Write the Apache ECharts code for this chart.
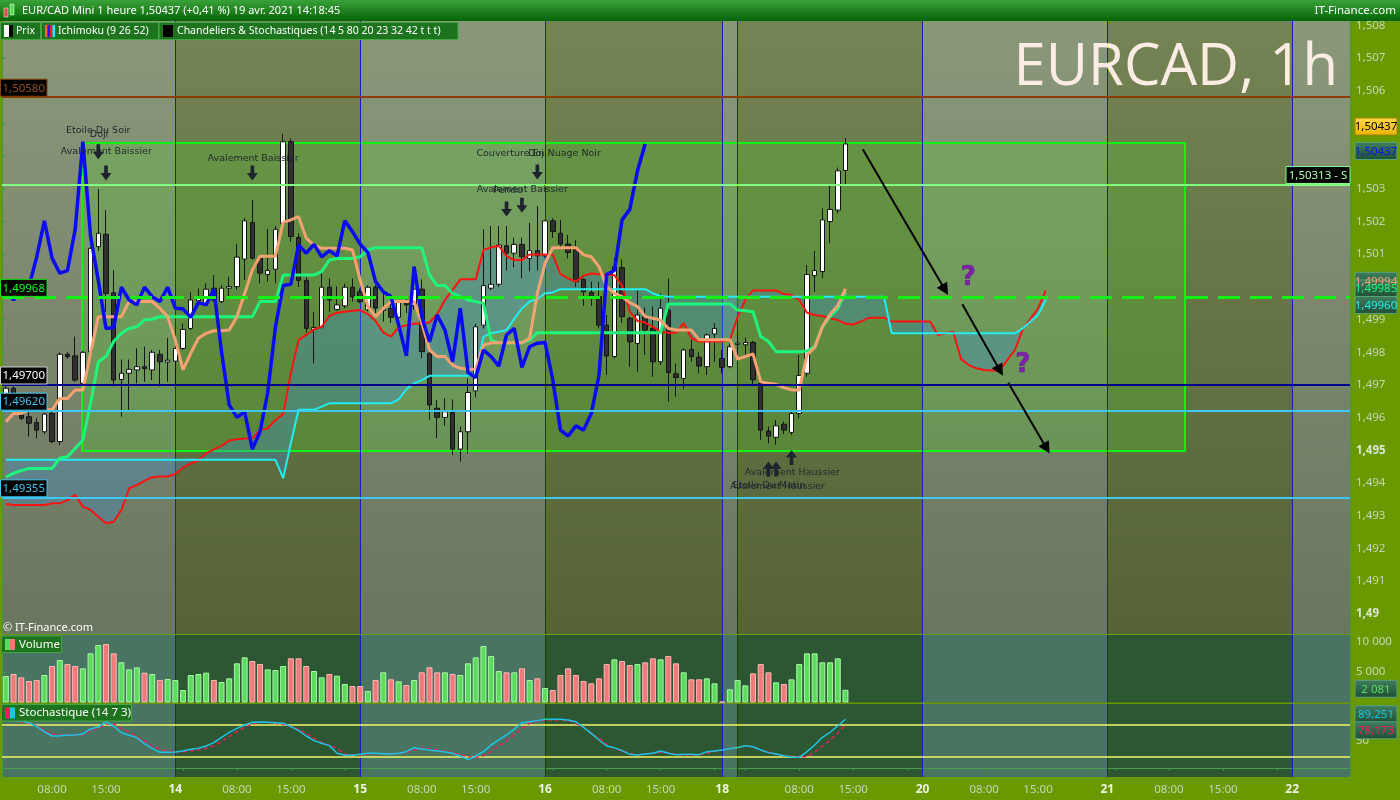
<!DOCTYPE html>
<html><head><meta charset="utf-8">
<script src="https://cdn.jsdelivr.net/npm/echarts@6/dist/echarts.min.js"></script>
<style>html,body{margin:0;padding:0;background:#689a00;}#c{width:1400px;height:800px;}</style>
</head><body><div id="c"></div>
<script>
// ---------- DATA ----------
const sessions = [[13,2,23],[14,0,23],[15,0,23],[16,0,22],[18,22,23],[19,0,23],[20,0,23],[21,0,23],[22,0,7]];
const tickHours = [1,8,15,22];
const timeLabelHours = [8,15];

const openP = [1.49665,1.49690,1.49608,1.49603,1.49585,1.49557,1.49613,1.49527,1.49794,1.49789,
1.49705,1.49802,1.50123,1.50161,1.49982,1.49717,1.49736,1.49746,1.49756,1.49746,
1.49794,1.49770,1.49773,1.49812,1.49873,1.49958,1.49950,1.49996,1.49955,1.49996,
1.50001,1.50085,1.50197,1.50088,1.50038,1.50054,1.50194,1.50444,1.50151,1.50020,
1.49870,1.49878,1.49999,1.49931,1.49942,1.49999,1.49985,1.49930,1.49999,1.49928,
1.49934,1.49907,1.49955,1.49943,1.49993,1.49797,1.49629,1.49601,1.49616,1.49504,
1.49557,1.49682,1.49883,1.49996,1.50008,1.50126,1.50103,1.50130,1.50087,1.50111,
1.50095,1.50202,1.50164,1.50131,1.50115,1.50023,1.49983,1.49970,1.49883,1.49787,
1.50059,1.49904,1.49827,1.49909,1.49873,1.49771,1.49929,1.49734,1.49720,1.49809,
1.49785,1.49756,1.49856,1.49781,1.49756,1.49824,1.49823,1.49830,1.49705,1.49559,
1.49540,1.49580,1.49555,1.49613,1.49736,1.50035,1.50047,1.50200,1.50235,1.50356];
const closeP = [1.49690,1.49650,1.49598,1.49583,1.49562,1.49611,1.49527,1.49794,1.49787,1.49715,
1.49800,1.50118,1.50164,1.49980,1.49715,1.49736,1.49748,1.49756,1.49750,1.49800,
1.49771,1.49776,1.49812,1.49870,1.49960,1.49965,1.49993,1.49960,1.49996,1.50001,
1.50091,1.50202,1.50088,1.50042,1.50050,1.50176,1.50444,1.50154,1.50020,1.49873,
1.49876,1.49999,1.49960,1.49945,1.49999,1.49970,1.49955,1.49999,1.49935,1.49933,
1.49907,1.49952,1.49945,1.49993,1.49802,1.49639,1.49601,1.49618,1.49504,1.49557,
1.49677,1.49878,1.50004,1.50008,1.50128,1.50103,1.50130,1.50092,1.50111,1.50095,
1.50202,1.50169,1.50131,1.50105,1.50016,1.49985,1.49970,1.49883,1.49789,1.50062,
1.49909,1.49832,1.49914,1.49868,1.49771,1.49935,1.49738,1.49723,1.49807,1.49787,
1.49758,1.49853,1.49873,1.49754,1.49817,1.49828,1.49830,1.49716,1.49562,1.49544,
1.49575,1.49562,1.49613,1.49729,1.50038,1.50050,1.50205,1.50237,1.50355,1.50437];
const lowP = [1.49650,1.49630,1.49593,1.49542,1.49537,1.49550,1.49522,1.49517,1.49780,1.49710,
1.49700,1.49795,1.50110,1.49924,1.49695,1.49603,1.49624,1.49705,1.49710,1.49715,
1.49695,1.49710,1.49700,1.49807,1.49868,1.49954,1.49945,1.49955,1.49950,1.49970,
1.49991,1.50021,1.50083,1.50011,1.50016,1.50011,1.50189,1.50138,1.50000,1.49860,
1.49766,1.49873,1.49924,1.49928,1.49935,1.49955,1.49950,1.49925,1.49920,1.49894,
1.49890,1.49900,1.49920,1.49930,1.49782,1.49593,1.49537,1.49575,1.49486,1.49466,
1.49491,1.49662,1.49873,1.49990,1.50000,1.50050,1.50060,1.50026,1.50047,1.50050,
1.50090,1.50150,1.50120,1.50087,1.50000,1.49942,1.49942,1.49873,1.49731,1.49782,
1.49890,1.49756,1.49741,1.49792,1.49725,1.49761,1.49649,1.49664,1.49687,1.49771,
1.49736,1.49731,1.49771,1.49736,1.49751,1.49792,1.49792,1.49700,1.49532,1.49522,
1.49517,1.49550,1.49547,1.49598,1.49725,1.49985,1.50026,1.50133,1.50225,1.50310];
const highP = [1.49720,1.49705,1.49624,1.49624,1.49598,1.49615,1.49620,1.49800,1.49800,1.49848,
1.49805,1.50122,1.50299,1.50235,1.50052,1.49778,1.49778,1.49812,1.49817,1.49807,
1.49807,1.49843,1.49833,1.49888,1.49985,1.49995,1.50011,1.50036,1.50005,1.50031,
1.50132,1.50210,1.50266,1.50095,1.50177,1.50186,1.50468,1.50454,1.50164,1.50030,
1.49924,1.50050,1.50026,1.50001,1.50010,1.50026,1.49995,1.50005,1.50006,1.49980,
1.49980,1.49960,1.49965,1.50000,1.50023,1.49800,1.49654,1.49659,1.49656,1.49573,
1.49720,1.49887,1.50176,1.50186,1.50186,1.50186,1.50151,1.50151,1.50196,1.50247,
1.50205,1.50210,1.50205,1.50159,1.50143,1.50026,1.50016,1.50016,1.49914,1.50087,
1.50084,1.49909,1.49989,1.49937,1.49940,1.49980,1.50026,1.49766,1.49812,1.49838,
1.49802,1.49858,1.49889,1.49807,1.49838,1.49861,1.49845,1.49835,1.49715,1.49573,
1.49593,1.49588,1.49618,1.49792,1.50067,1.50110,1.50240,1.50312,1.50365,1.50455];

const volumes = [4344,4672,4126,3525,3689,4508,5984,6967,6311,5984,
5601,8060,9426,9590,8060,6585,5437,5765,4891,4672,
3689,3852,3689,2049,4508,4672,4891,3689,3361,3962,
6421,7404,6803,6311,5437,5328,5984,7240,7240,5984,
5164,4126,4672,4399,3033,2705,2705,1885,3689,4945,
3798,3470,2869,3689,4945,5765,4945,4945,4672,4508,
6421,7404,9262,7623,5164,4945,4945,5601,3689,3962,
2377,2049,4508,5601,4508,3525,3142,3962,6311,7076,
6803,6148,6311,6585,7240,7076,7623,6421,4945,3798,
3798,3962,3142,137,2158,3689,2814,4781,6311,4945,
3306,3033,3798,6311,8060,8060,6585,6585,7240,2081];

const tenkan = [1.49588,1.49613,1.49613,1.49624,1.49624,1.49624,1.49624,1.49659,1.49659,1.49685,
1.49685,1.49797,1.49909,1.49909,1.49909,1.49909,1.49955,1.49955,1.49955,1.49955,
1.49934,1.49909,1.49838,1.49746,1.49797,1.49843,1.49858,1.49866,1.49866,1.49868,
1.49909,1.49980,1.50052,1.50094,1.50094,1.50094,1.50197,1.50205,1.50215,1.50149,
1.50128,1.50118,1.50118,1.50118,1.50118,1.50113,1.50021,1.49940,1.49909,1.49934,
1.49955,1.49955,1.49955,1.49955,1.49889,1.49807,1.49787,1.49787,1.49761,1.49751,
1.49748,1.49748,1.49822,1.49829,1.49829,1.49829,1.49829,1.49829,1.49843,1.49980,
1.50072,1.50120,1.50120,1.50120,1.50120,1.50098,1.50092,1.50062,1.50001,1.49980,
1.49970,1.49952,1.49940,1.49909,1.49904,1.49899,1.49873,1.49868,1.49868,1.49868,
1.49838,1.49838,1.49838,1.49838,1.49838,1.49779,1.49787,1.49795,1.49710,1.49705,
1.49702,1.49692,1.49685,1.49685,1.49792,1.49814,1.49878,1.49916,1.49943,1.49994];
const kijun = [1.49418,1.49430,1.49438,1.49445,1.49445,1.49445,1.49445,1.49476,1.49481,1.49506,
1.49532,1.49644,1.49771,1.49787,1.49833,1.49858,1.49873,1.49878,1.49899,1.49901,
1.49909,1.49909,1.49909,1.49909,1.49909,1.49909,1.49909,1.49909,1.49909,1.49909,
1.49909,1.49909,1.49909,1.49955,1.49955,1.49955,1.50036,1.50036,1.50036,1.50036,
1.50036,1.50047,1.50082,1.50087,1.50087,1.50087,1.50092,1.50113,1.50120,1.50120,
1.50120,1.50120,1.50120,1.50120,1.50120,1.50036,1.50004,1.50004,1.49980,1.49970,
1.49960,1.49955,1.49950,1.49838,1.49829,1.49829,1.49829,1.49829,1.49838,1.49860,
1.49860,1.49860,1.49860,1.49860,1.49860,1.49860,1.49860,1.49860,1.49860,1.49860,
1.49860,1.49860,1.49860,1.49860,1.49860,1.49860,1.49948,1.49948,1.49948,1.49948,
1.49948,1.49948,1.49948,1.49948,1.49948,1.49929,1.49927,1.49924,1.49848,1.49833,
1.49802,1.49802,1.49802,1.49802,1.49804,1.49817,1.49878,1.49909,1.49934,1.49985];
const senkouA = [1.49336,1.49333,1.49333,1.49333,1.49333,1.49333,1.49338,1.49338,1.49348,1.49364,
1.49328,1.49318,1.49297,1.49277,1.49282,1.49318,1.49384,1.49394,1.49407,1.49418,
1.49420,1.49420,1.49428,1.49448,1.49460,1.49469,1.49491,1.49503,1.49514,1.49530,
1.49534,1.49536,1.49537,1.49562,1.49567,1.49593,1.49611,1.49736,1.49838,1.49853,
1.49870,1.49878,1.49911,1.49921,1.49924,1.49927,1.49929,1.49917,1.49896,1.49860,
1.49848,1.49876,1.49883,1.49887,1.49889,1.49891,1.49917,1.49960,1.49991,1.50023,
1.50023,1.50023,1.50113,1.50121,1.50125,1.50094,1.50082,1.50082,1.50099,1.50099,
1.50099,1.50098,1.50039,1.50026,1.50016,1.50034,1.50041,1.50039,1.50036,1.50036,
1.50003,1.49924,1.49896,1.49891,1.49878,1.49863,1.49860,1.49860,1.49889,1.49843,
1.49833,1.49833,1.49833,1.49833,1.49838,1.49909,1.49960,1.49989,1.49989,1.49989,
1.49989,1.49978,1.49975,1.49960,1.49921,1.49914,1.49911,1.49904,1.49899,1.49887,
1.49885,1.49894,1.49905,1.49906,1.49906,1.49894,1.49894,1.49894,1.49894,1.49894,
1.49894,1.49853,1.49858,1.49862,1.49779,1.49761,1.49751,1.49746,1.49744,1.49744,
1.49776,1.49807,1.49870,1.49902,1.49934,1.49989];
const senkouB = [1.49471,1.49471,1.49471,1.49471,1.49471,1.49471,1.49471,1.49471,1.49471,1.49471,
1.49471,1.49471,1.49471,1.49471,1.49471,1.49471,1.49471,1.49471,1.49471,1.49471,
1.49471,1.49471,1.49471,1.49471,1.49471,1.49471,1.49471,1.49471,1.49471,1.49471,
1.49471,1.49471,1.49471,1.49471,1.49471,1.49471,1.49415,1.49522,1.49624,1.49624,
1.49624,1.49634,1.49644,1.49644,1.49644,1.49644,1.49644,1.49644,1.49644,1.49644,
1.49644,1.49656,1.49687,1.49705,1.49715,1.49728,1.49728,1.49728,1.49728,1.49728,
1.49728,1.49734,1.49848,1.49858,1.49863,1.49868,1.49902,1.49934,1.49955,1.49963,
1.49980,1.49983,1.49993,1.49993,1.49993,1.49993,1.49993,1.49993,1.49993,1.49993,
1.49993,1.49993,1.49993,1.49993,1.49980,1.49972,1.49970,1.49970,1.49970,1.49970,
1.49970,1.49970,1.49970,1.49970,1.49970,1.49970,1.49970,1.49970,1.49970,1.49970,
1.49970,1.49970,1.49970,1.49970,1.49970,1.49970,1.49970,1.49970,1.49970,1.49970,
1.49970,1.49970,1.49970,1.49970,1.49970,1.49858,1.49858,1.49858,1.49858,1.49858,
1.49858,1.49858,1.49858,1.49858,1.49858,1.49858,1.49858,1.49858,1.49858,1.49858,
1.49858,1.49858,1.49873,1.49894,1.49914,1.49960];
const chikou = [1.49993,1.49960,1.49996,1.50001,1.50091,1.50202,1.50088,1.50042,1.50050,1.50176,
1.50444,1.50154,1.50020,1.49873,1.49876,1.49999,1.49960,1.49945,1.49999,1.49970,
1.49955,1.49999,1.49935,1.49933,1.49907,1.49952,1.49945,1.49993,1.49802,1.49639,
1.49601,1.49618,1.49504,1.49557,1.49677,1.49878,1.50004,1.50008,1.50128,1.50103,
1.50130,1.50092,1.50111,1.50095,1.50202,1.50169,1.50131,1.50105,1.50016,1.49985,
1.49970,1.49883,1.49789,1.50062,1.49909,1.49832,1.49914,1.49868,1.49771,1.49935,
1.49738,1.49723,1.49807,1.49787,1.49758,1.49853,1.49873,1.49754,1.49817,1.49828,
1.49830,1.49716,1.49562,1.49544,1.49575,1.49562,1.49613,1.49729,1.50038,1.50050,
1.50205,1.50237,1.50355,1.50437];

const stochK = [87.3,86.7,86.0,83.0,75.7,66.5,58.5,59.1,59.8,60.4,
62.2,71.4,75.0,84.2,76.9,64.6,59.8,55.5,43.9,35.9,
28.6,28.6,29.2,31.0,34.1,35.9,40.2,46.3,56.1,65.3,
72.6,78.7,83.6,84.2,83.6,83.0,81.8,75.7,68.3,58.5,
50.0,45.1,40.8,26.7,23.1,23.1,24.9,26.7,26.7,26.1,
25.5,26.7,29.8,37.1,34.7,32.8,31.0,29.2,26.7,21.8,
15.1,21.8,29.8,42.0,51.2,60.4,70.8,83.0,84.8,86.7,
89.1,89.1,89.1,87.9,84.8,74.4,63.4,51.2,40.2,37.1,
31.6,24.9,23.7,25.5,26.7,31.0,26.7,24.3,24.9,24.9,
24.3,29.8,31.0,32.8,35.2,37.6,40.6,38.9,32.8,28.0,
25.5,22.4,20.0,19.4,29.8,42.0,56.1,65.3,76.9,89.251];
const stochD = [87.8,86.0,84.2,81.8,76.9,69.5,62.2,60.4,60.4,60.4,
61.0,67.7,73.2,80.5,80.5,72.0,65.9,57.3,50.0,40.8,
34.1,31.0,29.8,29.8,31.6,32.8,35.9,40.2,48.1,57.3,
66.5,74.4,80.5,83.6,83.6,81.8,79.9,75.7,70.8,63.4,
54.3,46.9,41.4,35.9,24.9,23.7,23.7,25.5,26.1,26.1,
25.5,26.7,28.6,32.8,35.9,34.7,32.8,30.4,28.0,24.9,
20.6,18.8,22.4,29.8,40.2,50.0,60.4,72.6,81.8,86.0,
87.9,87.9,87.9,87.3,81.8,74.4,63.4,54.3,43.2,35.9,
31.0,26.7,23.7,25.5,26.7,29.2,28.0,24.9,23.7,23.7,
23.7,26.7,30.4,32.8,35.2,37.6,40.2,38.9,32.8,28.6,
25.5,22.4,21.2,20.6,20.6,28.6,40.2,51.2,63.4,78.173];
const stochLevels = [80, 20];

const levels = [1.50580, 1.50313, 1.49968, 1.49700, 1.49620, 1.49355];
const levelTagSide = ['left','right','left','left','left','left'];
const levelSuffix = ['',' - S','','','',''];

// user drawing: rectangle [xStart, xEnd, priceTop, priceBottom] in hour-slot units
const drawnBox = [10.39, 153.58, 1.50440, 1.49498];
// drawn arrows [x1, p1, x2, p2]
const drawnArrows = [[111.74,1.50421,122.42,1.49991],[124.67,1.49947,129.56,1.49744],[130.64,1.49707,135.62,1.49506]];
const questionMarks = [[125.45,1.50026],[132.51,1.49761]];
// candlestick pattern annotations
const patternTexts = [
 ['Etoile Du Soir',12.5,1.50478],['Doji',12.6,1.50465],['Avalement Baissier',13.54,1.50413],
 ['Avalement Baissier',32.6,1.50392],
 ['Couverture En Nuage Noir',69.67,1.50409],['Doji',69.5,1.50409],
 ['Avalement Baissier',67.55,1.50299],['Pendu',65.66,1.50294],
 ['Avalement Haussier',102.6,1.49433],['Etoile Du Matin',99.57,1.49394],['Avalement Haussier',100.68,1.49389]
];
const patternArrows = [[12.5,1.50413,'down'],[13.5,1.50348,'down'],[32.5,1.50348,'down'],[69.5,1.50351,'down'],
 [65.5,1.50238,'down'],[67.5,1.50250,'down'],[102.5,1.49478,'up'],[99.5,1.49443,'up'],[100.5,1.49443,'up']];

const lastPrice = 1.50437;
const lastTenkan = 1.49994, lastKijun = 1.49985, lastSenkouB = 1.49960;
const lastVolume = 2081, lastK = 89.251, lastD = 78.173;

// ---------- BUILD ----------
const cats = [], catDay = [], catHour = [], sessionStart = [];
sessions.forEach(([d,h0,h1]) => {
  sessionStart.push(cats.length);
  for (let h = h0; h <= h1; h++) { cats.push(d + ' ' + String(h).padStart(2,'0') + ':00'); catDay.push(d); catHour.push(h); }
});
const N = cats.length;
const labelAt = cats.map(() => '');
const tickAt = cats.map((c,i) => tickHours.includes(catHour[i]));
cats.forEach((c,i) => { if (timeLabelHours.includes(catHour[i])) labelAt[i] = String(catHour[i]).padStart(2,'0') + ':00'; });
sessionStart.forEach((s,k) => { if (k > 0 && s - sessionStart[k-1] > 3) labelAt[s] = '{d|' + catDay[s] + '}'; });

const dayLines = sessionStart.slice(1).map(s => ({xAxis: s + 0.5}));
const bounds = [0].concat(sessionStart.slice(1).map(s => s + 0.5)).concat([N]);
const grad = (a,b) => ({type:'linear',x:0,y:0,x2:0,y2:1,colorStops:[{offset:0,color:a},{offset:1,color:b}]});
function bands(light, dark) {
  const out = [];
  for (let k = 0; k < bounds.length - 1; k++) out.push([{xAxis: bounds[k], itemStyle:{color: k % 2 === 0 ? light : dark}}, {xAxis: bounds[k+1]}]);
  return out;
}

const candleData = openP.map((o,i) => [o, closeP[i], lowP[i], highP[i]]);
const volData = volumes.map((v,i) => ({value: v, itemStyle: closeP[i] >= openP[i]
  ? {color:'#5cdc5c', borderColor:'#a9f7a9', borderWidth:1}
  : {color:'#ef7a7a', borderColor:'#ffb8b8', borderWidth:1}}));
const cloudBase = senkouA.map((a,i) => Math.min(a, senkouB[i]));
const cloudBand = senkouA.map((a,i) => Math.abs(a - senkouB[i]));

const FONT = "'Noto Sans', 'DejaVu Sans', sans-serif";
const fmtPrice = v => { const r = Math.round(v * 1000) / 1000; const s = String(r).replace('.', ','); return Math.round(r * 1000) % 5 === 0 ? '{b|' + s + '}' : s; };
const fmtLevel = v => v.toFixed(5).replace('.', ',');

const downArrow = 'path://M4,0L8,0L8,8L12,8L6,16L0,8L4,8Z';

const levelLineStyles = [
  {color:'#8b3d00', width:2, type:'solid'},
  {color:'#80ff80', width:2, type:'solid'},
  {color:'#14f014', width:3, type:[22,10]},
  {color:'#00008c', width:2, type:'solid'},
  {color:'#3ec6f5', width:2, type:'solid'},
  {color:'#3ec6f5', width:2, type:'solid'}
];
const levelLines = levels.map((lv,k) => [
  {coord:[0, lv], lineStyle:levelLineStyles[k]},
  {coord:[N, lv], lineStyle:levelLineStyles[k]}
]);

const option = {
  animation: false,
  backgroundColor: '#689a00',
  textStyle: {fontFamily: FONT},
  grid: [
    {left:2, top:20, width:1348, height:614, containLabel:false, outerBoundsMode:'none'},
    {left:2, top:635, width:1348, height:67.5, containLabel:false, outerBoundsMode:'none'},
    {left:2, top:704, width:1348, height:73, containLabel:false, outerBoundsMode:'none'}
  ],
  xAxis: [
    {type:'category', gridIndex:0, data:cats, show:false},
    {type:'value', gridIndex:0, min:0, max:N, show:false},
    {type:'category', gridIndex:1, data:cats, show:false},
    {type:'value', gridIndex:1, min:0, max:N, show:false},
    {type:'category', gridIndex:2, data:cats,
      axisLine:{show:true, lineStyle:{color:'#4aa04a', width:1}},
      axisTick:{show:true, alignWithLabel:true, interval:(i) => tickAt[i], length:3, lineStyle:{color:'#3f9a3f'}},
      axisLabel:{interval:(i) => labelAt[i] !== '', formatter:(v,i) => labelAt[i], color:'#c8d4bb', fontSize:11.5, margin:7,
        rich:{d:{color:'#eef3e6', fontWeight:'bold', fontSize:12}}},
      splitLine:{show:false}},
    {type:'value', gridIndex:2, min:0, max:N, show:false}
  ],
  yAxis: [
    {type:'value', gridIndex:0, position:'right', min:1.489385, max:1.508162, splitNumber:19,
      axisLine:{show:true, lineStyle:{color:'#3f9a3f'}}, axisTick:{show:true, length:4, lineStyle:{color:'#3f9a3f'}},
      axisLabel:{color:'#c8d4bb', fontSize:11.5, margin:6, showMinLabel:false, showMaxLabel:false, formatter:fmtPrice,
        rich:{b:{color:'#dde6d2', fontWeight:'bold', fontSize:11.5}}},
      splitLine:{show:false}},
    {type:'value', gridIndex:1, position:'right', min:0, max:11066, interval:5000,
      axisLine:{show:true, lineStyle:{color:'#3f9a3f'}}, axisTick:{show:true, length:4, lineStyle:{color:'#3f9a3f'}},
      axisLabel:{color:'#c8d4bb', fontSize:11.5, margin:6, showMinLabel:false, showMaxLabel:false,
        formatter: v => String(v).replace(/\B(?=(\d{3})+(?!\d))/g, ' ')},
      splitLine:{show:false}},
    {type:'value', gridIndex:2, position:'right', min:-16.7, max:117.2, splitNumber:3,
      axisLine:{show:true, lineStyle:{color:'#3f9a3f'}}, axisTick:{show:false},
      axisLabel:{color:'#c8d4bb', fontSize:11.5, margin:6, showMinLabel:false, showMaxLabel:false, formatter: v => v === 50 ? '50' : ''},
      splitLine:{show:false}}
  ],
  series: [
    // main background bands + day lines
    {type:'line', xAxisIndex:1, yAxisIndex:0, data:[], silent:true, z:0,
      markArea:{silent:true, z:0, data: bands(grad('#8a987a','#6a765f'), grad('#748454','#556337'))},
      markLine:{silent:true, z:1, symbol:'none', label:{show:false}, lineStyle:{color:'#1c1cc0', width:1, type:'solid'}, data: dayLines}},
    // drawn rectangle
    {type:'line', xAxisIndex:1, yAxisIndex:0, data:[], silent:true, z:1,
      markArea:{silent:true, z:1, itemStyle:{color:'rgba(80,210,40,0.25)', borderColor:'#14f014', borderWidth:2},
        data:[[{coord:[drawnBox[0], drawnBox[2]]},{coord:[drawnBox[1], drawnBox[3]]}]]}},
    // cloud
    {name:'cloudBase', type:'line', xAxisIndex:0, yAxisIndex:0, data:cloudBase, stack:'cloud', symbol:'none', silent:true, z:2,
      lineStyle:{opacity:0}},
    {name:'cloudBand', type:'line', xAxisIndex:0, yAxisIndex:0, data:cloudBand, stack:'cloud', symbol:'none', silent:true, z:2,
      lineStyle:{opacity:0}, areaStyle:{color:'rgba(60,140,205,0.5)'}},
    // candles
    {type:'candlestick', xAxisIndex:0, yAxisIndex:0, data:candleData, barWidth:5, z:3, silent:true,
      itemStyle:{color:'#ffffff', color0:'#303030', borderColor:'#141414', borderColor0:'#141414', borderWidth:1}},
    // ichimoku lines
    {type:'line', xAxisIndex:0, yAxisIndex:0, data:senkouA, symbol:'none', z:4, silent:true, lineStyle:{color:'#ff1212', width:2}},
    {type:'line', xAxisIndex:0, yAxisIndex:0, data:senkouB, symbol:'none', z:4, silent:true, lineStyle:{color:'#22eef0', width:2}},
    {type:'line', xAxisIndex:0, yAxisIndex:0, data:kijun, symbol:'none', z:4, silent:true, lineStyle:{color:'#1ef57c', width:3}},
    {type:'line', xAxisIndex:0, yAxisIndex:0, data:tenkan, symbol:'none', z:4, silent:true, lineStyle:{color:'#f6a273', width:3}},
    {type:'line', xAxisIndex:0, yAxisIndex:0, data:chikou, symbol:'none', z:4, silent:true, lineStyle:{color:'#0a0af5', width:3.5}},
    // horizontal levels
    {type:'line', xAxisIndex:1, yAxisIndex:0, data:[], silent:true, z:5,
      markLine:{silent:true, z:5, symbol:'none', label:{show:false}, data: levelLines}},
    // drawn arrows + question marks + pattern texts
    {type:'line', xAxisIndex:1, yAxisIndex:0, data:[], silent:true, z:6,
      markLine:{silent:true, z:6, symbol:['none','triangle'], symbolSize:12, label:{show:false},
        lineStyle:{color:'#000000', width:2, type:'solid'},
        data: drawnArrows.map(a => [{coord:[a[0],a[1]]},{coord:[a[2],a[3]]}])},
      markPoint:{silent:true, z:6, data:
        questionMarks.map(q => ({coord:q, symbolSize:0, label:{show:true, formatter:'?', position:'inside', color:'#7b22a8', fontSize:26, fontWeight:'bold', fontFamily:'DejaVu Sans', textBorderColor:'#4a1070', textBorderWidth:0.5}}))
        .concat(patternTexts.map(t => ({coord:[t[1],t[2]], symbolSize:0, label:{show:true, formatter:t[0], position:'inside', color:'#1f272d', fontSize:9.5, fontFamily:'DejaVu Sans'}})))}},
    {type:'line', xAxisIndex:1, yAxisIndex:0, data:[], silent:true, z:7,
      markPoint:{silent:true, z:7, data: patternArrows.map(a => ({coord:[a[0],a[1]], symbol:downArrow, symbolSize:[11,15], symbolRotate: a[2]==='up' ? 180 : 0,
        itemStyle:{color:'#1c242e'}, label:{show:false}}))}},
    // volume panel
    {type:'line', xAxisIndex:3, yAxisIndex:1, data:[], silent:true, z:0,
      markArea:{silent:true, z:0, data: bands('#4a7462','#2d5732')},
      markLine:{silent:true, z:1, symbol:'none', label:{show:false}, lineStyle:{color:'#1c1cc0', width:1, type:'solid'}, data: dayLines}},
    {type:'bar', xAxisIndex:2, yAxisIndex:1, data:volData, barWidth:6, z:3, silent:true},
    // stochastic panel
    {type:'line', xAxisIndex:5, yAxisIndex:2, data:[], silent:true, z:0,
      markArea:{silent:true, z:0, data: bands('#4a7462','#2d5732')},
      markLine:{silent:true, z:1, symbol:'none', label:{show:false}, lineStyle:{color:'#1c1cc0', width:1, type:'solid'}, data: dayLines}},
    {type:'line', xAxisIndex:5, yAxisIndex:2, data:[], silent:true, z:1,
      markLine:{silent:true, z:1, symbol:'none', label:{show:false}, data:
        stochLevels.map(l => [{coord:[0,l], lineStyle:{color:'#f4f46a', width:1.5, type:'solid'}},{coord:[N,l], lineStyle:{color:'#f4f46a', width:1.5, type:'solid'}}])}},
    {type:'line', xAxisIndex:4, yAxisIndex:2, data:stochD, symbol:'none', z:4, silent:true, lineStyle:{color:'#e81e60', width:1.5, type:[4,3]}},
    {type:'line', xAxisIndex:4, yAxisIndex:2, data:stochK, symbol:'none', z:4, silent:true, lineStyle:{color:'#1cc4e6', width:1.5}}
  ]
};

const chart = echarts.init(document.getElementById('c'), null, {renderer:'canvas', width:1400, height:800});
chart.setOption(option);

// ---------- overlays (chrome + price tags positioned through the axes) ----------
const py = v => chart.convertToPixel({yAxisIndex:0}, v);
const pyV = v => chart.convertToPixel({yAxisIndex:1}, v);
const pyS = v => chart.convertToPixel({yAxisIndex:2}, v);
const G = [];
function txt(x, y, text, fill, font, align, valign, z) {
  return {type:'text', x:x, y:y, z:z || 100, silent:true, style:{text:text, fill:fill, font:font, textAlign:align||'left', textVerticalAlign:valign||'middle', align:align||'left', verticalAlign:valign||'middle'}};
}
function rect(x, y, w, h, fill, stroke, lw, z) {
  return {type:'rect', z:z || 100, silent:true, shape:{x:x, y:y, width:w, height:h}, style:{fill:fill, stroke:stroke || null, lineWidth:lw || 0}};
}
function tagBox(x, yc, w, text, fill, stroke, color) {
  G.push(rect(x, yc - 8.5, w, 17, fill, stroke, 1, 110));
  G.push(txt(x + w / 2, yc + 0.5, text, color, "11.5px " + FONT, 'center', 'middle', 111));
}
// header
G.push(rect(0, 0, 1400, 21, grad('#3aa23a', '#066406'), null, 0, 100));
G.push(rect(4, 8, 4, 9, '#e04848', '#ffffff', 0.5, 101));
G.push(rect(10, 4, 4, 11, '#50e050', '#ffffff', 0.5, 101));
G.push(txt(22, 11, 'EUR/CAD Mini 1 heure 1,50437 (+0,41 %) 19 avr. 2021 14:18:45', '#ffffff', "11px " + FONT, 'left', 'middle', 101));
G.push(txt(1396, 11, 'IT-Finance.com', '#ffffff', "11.5px " + FONT, 'right', 'middle', 101));
// legends
G.push(rect(0.5, 22.5, 40, 17, '#1e741e', '#46a646', 1, 100));
G.push(rect(4, 25, 5, 12, '#ffffff', null, 0, 101)); G.push(rect(9, 25, 4, 12, '#000000', null, 0, 101));
G.push(txt(16, 31.5, 'Prix', '#ffffff', "10.5px " + FONT, 'left', 'middle', 101));
G.push(rect(41.5, 22.5, 117, 17, '#1e741e', '#46a646', 1, 100));
G.push(rect(45, 25, 2.5, 12, '#ff6a2a', null, 0, 101)); G.push(rect(47.5, 25, 2.5, 12, '#1a1aff', null, 0, 101));
G.push(rect(50, 25, 2.5, 12, '#ff1a1a', null, 0, 101)); G.push(rect(52.5, 25, 2.5, 12, '#22eef0', null, 0, 101));
G.push(txt(58, 31.5, 'Ichimoku (9 26 52)', '#ffffff', "10.5px " + FONT, 'left', 'middle', 101));
G.push(rect(159, 22.5, 299, 17, '#1e741e', '#46a646', 1, 100));
G.push(rect(163, 25, 10, 12, '#000000', null, 0, 101));
G.push(txt(177, 31.5, 'Chandeliers & Stochastiques (14 5 80 20 23 32 42 t t t)', '#ffffff', "10.5px " + FONT, 'left', 'middle', 101));
G.push(rect(1.5, 636, 60, 16.5, '#1e741e', '#46a646', 1, 100));
G.push(rect(5, 639, 5, 11, '#5cdc5c', null, 0, 101)); G.push(rect(10, 639, 5, 11, '#ef7a7a', null, 0, 101));
G.push(txt(19, 644.5, 'Volume', '#ffffff', "11.5px " + FONT, 'left', 'middle', 101));
G.push(rect(1.5, 704.5, 130, 16.5, '#1e741e', '#46a646', 1, 100));
G.push(rect(5, 707.5, 5, 11, '#ff1a5a', null, 0, 101)); G.push(rect(10, 707.5, 5, 11, '#1cc4e6', null, 0, 101));
G.push(txt(19, 713, 'Stochastique (14 7 3)', '#ffffff', "11.5px " + FONT, 'left', 'middle', 101));
// big title + copyright
G.push(txt(1338, 97, 'EURCAD, 1h', '#fdece3', "58px 'Open Sans', 'Noto Sans', sans-serif", 'right', 'bottom', 90));
G.push(txt(3, 627.5, '© IT-Finance.com', '#ffffff', "11px " + FONT, 'left', 'middle', 90));
// separators
G.push({type:'line', z:95, silent:true, shape:{x1:1350.5, y1:20, x2:1350.5, y2:777}, style:{stroke:'#3f9a3f', lineWidth:1}});
// level tags
const tagStyles = [
  ['#000000','#8b3d00','#94501c'], ['#000000','#80ff80','#a8ffa8'], ['#000000','#14e014','#14ff14'],
  ['#000000','#d0d0d0','#ffffff'], ['#000000','#3ec6f5','#3ec6f5'], ['#000000','#3ec6f5','#3ec6f5']
];
levels.forEach((lv, k) => {
  const y = py(lv);
  const t = fmtLevel(lv) + levelSuffix[k];
  if (levelTagSide[k] === 'left') tagBox(0.5, y - 9.5, 46.5, t, tagStyles[k][0], tagStyles[k][1], tagStyles[k][2]);
  else tagBox(1286, y - 9.5, 64, t, tagStyles[k][0], tagStyles[k][1], tagStyles[k][2]);
});
// right axis value tags
const tealTag = grad('#3f7f5f', '#1f4f35');
tagBox(1355, py(lastPrice) - 17.5, 42, fmtLevel(lastPrice), grad('#ffd84a', '#f0b400'), '#a08000', '#000000');
tagBox(1355, py(lastPrice) + 7, 42, fmtLevel(lastPrice), tealTag, '#5aa07a', '#1414e8');
tagBox(1355, py(lastTenkan) - 8, 42, fmtLevel(lastTenkan), tealTag, '#5aa07a', '#f6a273');
tagBox(1355, py(lastKijun) - 3.4, 42, fmtLevel(lastKijun), tealTag, '#5aa07a', '#1ef57c');
tagBox(1355, py(lastSenkouB) + 5, 42, fmtLevel(lastSenkouB), tealTag, '#5aa07a', '#22eef0');
tagBox(1355, pyV(lastVolume) - 1, 42, String(lastVolume).replace(/\B(?=(\d{3})+(?!\d))/g, ' '), tealTag, '#5aa07a', '#5cdc5c');
tagBox(1355, pyS(lastK) - 5, 42, lastK.toFixed(3).replace('.', ','), tealTag, '#5aa07a', '#1cc4e6');
tagBox(1355, pyS(lastD) + 5, 42, lastD.toFixed(3).replace('.', ','), tealTag, '#5aa07a', '#ff1a5a');
chart.setOption({graphic: G});
</script></body></html>
